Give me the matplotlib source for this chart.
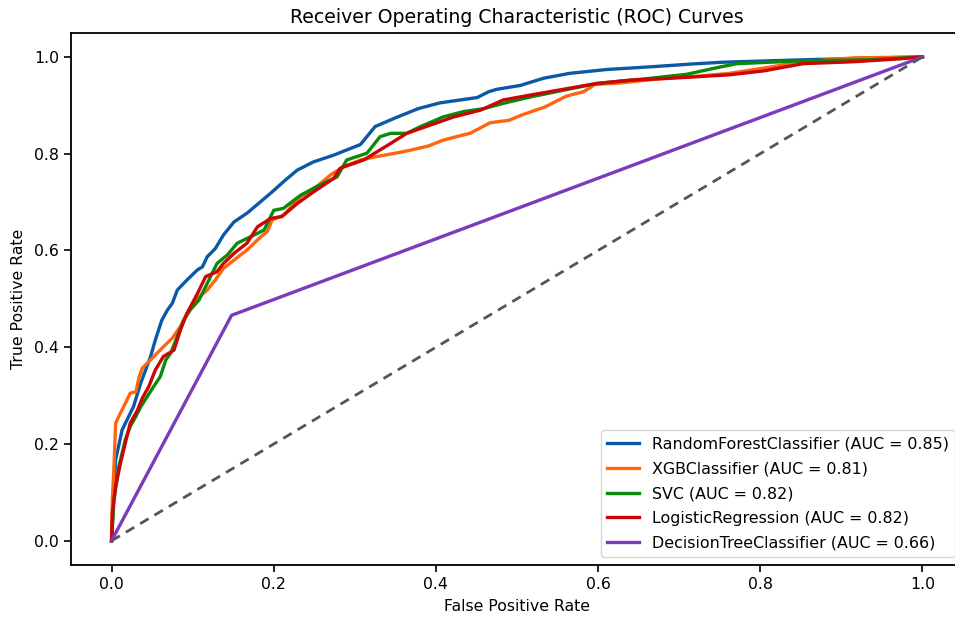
import matplotlib
matplotlib.use("Agg")
import matplotlib.pyplot as plt

# RandomForestClassifier
rf_fpr = [0.0, 0.005, 0.013, 0.027, 0.036, 0.048, 0.054, 0.062, 0.069, 0.075, 0.081, 0.093, 0.106, 0.112,
          0.118, 0.128, 0.138, 0.151, 0.167, 0.184, 0.198, 0.214, 0.229, 0.249, 0.274, 0.307, 0.325, 0.350,
          0.378, 0.405, 0.430, 0.451, 0.465, 0.475, 0.504, 0.533, 0.565, 0.611, 0.660, 0.722, 0.754, 0.853, 1.0]
rf_tpr = [0.0, 0.167, 0.229, 0.277, 0.326, 0.380, 0.415, 0.456, 0.477, 0.491, 0.518, 0.539, 0.560, 0.566,
          0.587, 0.604, 0.632, 0.659, 0.677, 0.701, 0.721, 0.745, 0.766, 0.783, 0.797, 0.819, 0.856, 0.874,
          0.893, 0.905, 0.911, 0.916, 0.928, 0.933, 0.941, 0.956, 0.966, 0.974, 0.979, 0.986, 0.989, 0.994, 1.0]

# XGBClassifier
xgb_fpr = [0.0, 0.001, 0.003, 0.005, 0.011, 0.017, 0.023, 0.030, 0.034, 0.038, 0.044, 0.054, 0.064, 0.075,
           0.085, 0.093, 0.106, 0.118, 0.128, 0.138, 0.151, 0.167, 0.184, 0.192, 0.198, 0.212, 0.233, 0.253,
           0.270, 0.286, 0.307, 0.327, 0.350, 0.368, 0.391, 0.409, 0.432, 0.442, 0.467, 0.490, 0.506, 0.535,
           0.561, 0.582, 0.596, 0.627, 0.660, 0.689, 0.722, 0.762, 0.812, 0.853, 0.915, 1.0]
xgb_tpr = [0.0, 0.085, 0.153, 0.243, 0.264, 0.284, 0.305, 0.308, 0.339, 0.357, 0.367, 0.384, 0.401, 0.419,
           0.443, 0.470, 0.501, 0.518, 0.539, 0.563, 0.580, 0.601, 0.628, 0.639, 0.663, 0.673, 0.711, 0.732,
           0.756, 0.773, 0.787, 0.794, 0.801, 0.807, 0.816, 0.828, 0.838, 0.842, 0.864, 0.869, 0.880, 0.897,
           0.919, 0.928, 0.943, 0.946, 0.952, 0.957, 0.960, 0.966, 0.979, 0.990, 0.998, 1.0]

# SVC
svc_fpr = [0.0, 0.003, 0.009, 0.017, 0.023, 0.030, 0.036, 0.044, 0.052, 0.060, 0.067, 0.073, 0.081, 0.089,
           0.097, 0.108, 0.118, 0.130, 0.143, 0.155, 0.171, 0.188, 0.200, 0.212, 0.233, 0.253, 0.278, 0.290,
           0.315, 0.331, 0.344, 0.364, 0.381, 0.409, 0.434, 0.459, 0.483, 0.516, 0.557, 0.598, 0.660, 0.709,
           0.750, 0.771, 0.853, 0.935, 1.0]
svc_tpr = [0.0, 0.085, 0.153, 0.209, 0.236, 0.257, 0.277, 0.298, 0.319, 0.339, 0.374, 0.388, 0.422, 0.456,
           0.477, 0.498, 0.532, 0.573, 0.591, 0.615, 0.628, 0.642, 0.683, 0.687, 0.714, 0.732, 0.752, 0.787,
           0.801, 0.835, 0.842, 0.842, 0.856, 0.876, 0.887, 0.893, 0.904, 0.917, 0.931, 0.945, 0.955, 0.964,
           0.979, 0.986, 0.992, 0.994, 1.0]

# LogisticRegression
lr_fpr = [0.0, 0.001, 0.005, 0.011, 0.017, 0.023, 0.032, 0.038, 0.046, 0.054, 0.064, 0.077, 0.085, 0.093,
          0.106, 0.116, 0.130, 0.138, 0.151, 0.167, 0.180, 0.196, 0.210, 0.229, 0.249, 0.274, 0.282, 0.311,
          0.344, 0.364, 0.393, 0.422, 0.455, 0.483, 0.516, 0.557, 0.598, 0.639, 0.680, 0.722, 0.762, 0.804,
          0.853, 0.915, 0.972, 1.0]
lr_tpr = [0.0, 0.057, 0.112, 0.160, 0.202, 0.243, 0.270, 0.295, 0.319, 0.353, 0.381, 0.394, 0.436, 0.470,
          0.511, 0.546, 0.556, 0.573, 0.594, 0.615, 0.649, 0.666, 0.670, 0.697, 0.721, 0.749, 0.770, 0.787,
          0.821, 0.842, 0.859, 0.876, 0.890, 0.911, 0.921, 0.933, 0.945, 0.952, 0.955, 0.959, 0.963, 0.971,
          0.986, 0.990, 0.996, 1.0]

# DecisionTreeClassifier
dt_fpr = [0.0, 0.148, 1.0]
dt_tpr = [0.0, 0.466, 1.0]

labels = ["RandomForestClassifier (AUC = 0.85)", "XGBClassifier (AUC = 0.81)", "SVC (AUC = 0.82)",
          "LogisticRegression (AUC = 0.82)", "DecisionTreeClassifier (AUC = 0.66)"]
colors = ["#0b58a6", "#ff650f", "#0a8a0a", "#cc0505", "#7a3cb8"]

plt.rcParams['font.family'] = ['DejaVu Sans']
fig = plt.figure(figsize=(9.55, 6.19), dpi=100)
ax = fig.add_axes([71 / 955, 54 / 619, 892 / 955, 532.3 / 619])

series = [(rf_fpr, rf_tpr), (xgb_fpr, xgb_tpr), (svc_fpr, svc_tpr), (lr_fpr, lr_tpr), (dt_fpr, dt_tpr)]
for (f, t), lab, c in zip(series, labels, colors):
    ax.plot(f, t, color=c, lw=2.4, label=lab)
ax.plot([0, 1], [0, 1], color="#555555", lw=2.0, linestyle=(0, (3.5, 2.5)))

ax.set_xlim(-0.05, 1.05)
ax.set_ylim(-0.05, 1.05)
ax.spines['right'].set_visible(False)
ax.tick_params(labelsize=11.3, width=1.2, length=5)
for s in ax.spines.values():
    s.set_linewidth(1.3)
ax.set_xlabel("False Positive Rate", fontsize=11.3, labelpad=5)
ax.set_ylabel("True Positive Rate", fontsize=11.3, labelpad=6)
ax.set_title("Receiver Operating Characteristic (ROC) Curves", fontsize=13.6, pad=7)
ax.legend(loc="lower right", fontsize=11.4, handlelength=2.0, labelspacing=0.62)

fig.savefig("out.png", dpi=100)
